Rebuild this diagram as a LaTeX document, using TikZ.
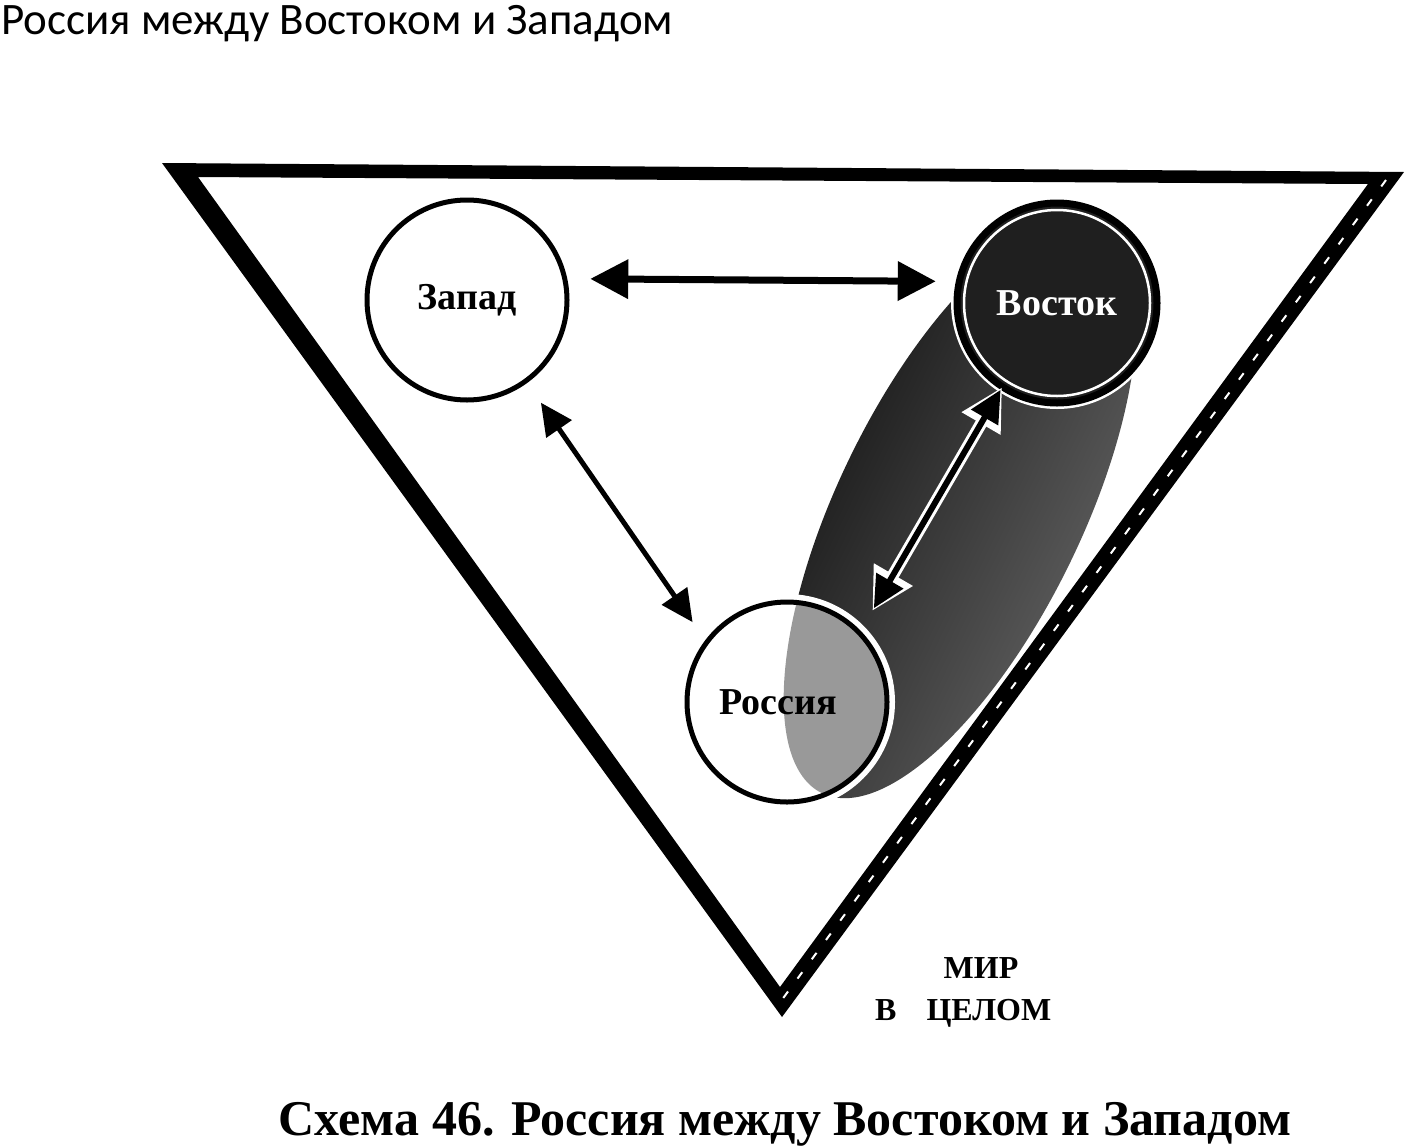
\documentclass[tikz,border=0pt]{standalone}
\usepackage{fontspec}
\setmainfont{Liberation Serif}
\newfontfamily\titlefont{Carlito}
\usetikzlibrary{arrows.meta,calc}
\begin{document}
\begin{tikzpicture}[x=1pt,y=-1pt,
  circ/.style={circle, minimum size=200pt, inner sep=0pt, line width=5pt, draw=black},
  lbl/.style={font=\fontsize{38}{40}\selectfont\bfseries},
  dblarrow/.style={{Triangle[length=38pt,width=38pt]}-{Triangle[length=38pt,width=38pt]}, line width=7pt},
  thinarrow/.style={{Triangle[length=32pt,width=30pt]}-{Triangle[length=32pt,width=30pt]}, line width=5pt},
  elli/.style={rotate around={64:(960,510)}},
  mirtext/.style={font=\bfseries\fontsize{32}{34}\selectfont, inner sep=0pt},
]
\useasboundingbox (0,0) rectangle (1407,1146);
\fill[white] (0,0) rectangle (1407,1146);

% world triangle
\fill[even odd rule] (162,163) -- (1404,172) -- (782,1017) -- cycle
                     (198,177) -- (1368,184) -- (780,987) -- cycle;
\draw[white, line width=2pt, dash pattern=on 8pt off 16pt] (1386,180) -- (781,1001);

% East region ellipse
\shade[elli, left color=black!95, right color=black!58, shading angle=64]
  (960,510) ellipse [x radius=315, y radius=122];

% Russia circle background
\fill[white] (787,702) circle (108);
\begin{scope}
  \clip (787,702) circle (100);
  \fill[elli, black!40] (960,510) ellipse [x radius=315, y radius=122];
\end{scope}

% nodes
\node[circ, lbl] (zapad) at (467,300) {Запад};
\fill[white] (1057,303) circle (106);
\node[circ, lbl, fill=black!88, text=white, line width=7pt] (vostok) at (1057,303) {Восток};
\draw[white, line width=2.5pt] (vostok.center) circle (93);
\node[circ, lbl] (rossia) at (787,702) {\hspace*{-18pt}Россия};

% connectors
\draw[dblarrow, shorten <=23pt, shorten >=20pt] (zapad.12) -- (vostok.168);
\draw[thinarrow, shorten <=24pt, shorten >=22pt] (zapad.-54) -- (rossia.143);
\draw[white, line width=12pt, {Triangle[length=42pt,width=42pt]}-{Triangle[length=42pt,width=42pt]},
      shorten <=-3pt, shorten >=23pt] (vostok.-123) -- (rossia.44);
\draw[thinarrow, line width=6pt, shorten <=0pt, shorten >=26pt] (vostok.-123) -- (rossia.44);

% texts
\node[font=\titlefont\fontsize{45}{47}\selectfont, anchor=base west, inner sep=0pt] (title) at (1,34)
  {Россия между Востоком и Западом};
\node[mirtext, anchor=base] (mir1) at (981,978) {МИР};
\node[mirtext, anchor=base west] (mir2) at (875,1020) {В\hspace{30pt}ЦЕЛОМ};
\node[font=\bfseries\fontsize{50}{52}\selectfont, anchor=base, inner sep=0pt] (caption) at (785,1135)
  {Схема 46. Россия между Востоком и Западом};
\end{tikzpicture}
\end{document}
